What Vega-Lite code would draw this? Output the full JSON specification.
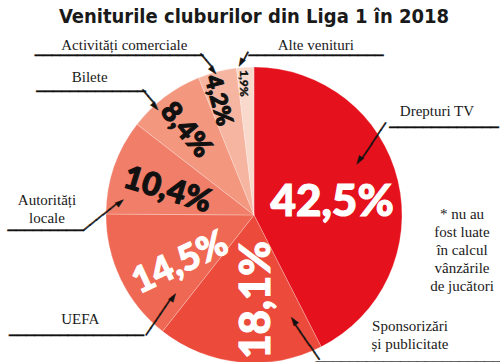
{
  "$schema": "https://vega.github.io/schema/vega-lite/v6.json",
  "width": 508,
  "height": 350,
  "autosize": "none",
  "padding": {"left": 0, "top": 40, "right": 0, "bottom": 0},
  "background": "white",
  "view": {"stroke": null},
  "title": {
    "text": "Veniturile cluburilor din Liga 1 în 2018",
    "font": "DejaVu Sans Condensed, Open Sans Condensed, Roboto",
    "fontSize": 20,
    "fontWeight": "bold",
    "color": "#1a1a1a",
    "anchor": "middle",
    "offset": 11
  },
  "data": {
    "values": [
      {"category": "Drepturi TV", "value": 42.5, "order": 1},
      {"category": "Sponsorizări\nși publicitate", "value": 18.1, "order": 2},
      {"category": "UEFA", "value": 14.5, "order": 3},
      {"category": "Autorități\nlocale", "value": 10.4, "order": 4},
      {"category": "Bilete", "value": 8.4, "order": 5},
      {"category": "Activități comerciale", "value": 4.2, "order": 6},
      {"category": "Alte venituri", "value": 1.9, "order": 7}
    ]
  },
  "transform": [
    {"stack": "value", "groupby": [], "sort": [{"field": "order", "order": "ascending"}], "as": ["v0", "v1"]},
    {"calculate": "(datum.v0 + datum.v1) / 2", "as": "mid"},
    {"calculate": "replace(format(datum.value, '.1f'), '.', ',') + '%'", "as": "pct"}
  ],
  "layer": [
    {
      "mark": {"type": "arc", "outerRadius": 148, "stroke": "#ffffff", "strokeWidth": 0.4, "strokeOpacity": 0.6},
      "encoding": {
        "theta": {"field": "v0", "type": "quantitative", "stack": null, "scale": {"domain": [0, 100]}},
        "theta2": {"field": "v1"},
        "color": {
          "field": "category",
          "type": "nominal",
          "legend": null,
          "scale": {
            "domain": ["Drepturi TV", "Sponsorizări\nși publicitate", "UEFA", "Autorități\nlocale", "Bilete", "Activități comerciale", "Alte venituri"],
            "range": ["#e5111d", "#ec4a3a", "#ef6853", "#f07e68", "#f3977f", "#f6b5a0", "#f9d9cc"]
          }
        }
      }
    },
    {
      "mark": {
        "type": "text",
        "font": "Lato",
        "fontWeight": 900,
        "align": "center",
        "baseline": "middle",
        "radius": {"expr": "[79, 85, 88, 90, 109, 120, 132][datum.order - 1]"},
        "thetaOffset": {"expr": "[4.8, -7.6, -7.3, -3, -2, -3, -1][datum.order - 1] * PI / 180"},
        "angle": {"expr": "[0, 270, 335, 17, 50, 75, 90][datum.order - 1]"},
        "fontSize": {"expr": "[44, 42, 36, 32, 28, 23, 12][datum.order - 1]"},
        "fill": {"expr": "datum.order <= 3 ? '#ffffff' : '#111111'"},
        "stroke": {"expr": "datum.order <= 3 ? '#ffffff' : '#111111'"},
        "strokeWidth": {"expr": "datum.order == 7 ? 0.3 : 1.1"}
      },
      "encoding": {
        "theta": {"field": "mid", "type": "quantitative", "stack": null},
        "text": {"field": "pct"}
      }
    },
    {
      "mark": {
        "type": "text",
        "font": "Liberation Serif",
        "fontSize": 15,
        "lineHeight": 18,
        "lineBreak": "\n",
        "align": "center",
        "baseline": "middle",
        "dy": -1,
        "fill": "#1a1a1a",
        "radius": {"expr": "[210, 192, 203, 207.5, 214, 213, 180][datum.order - 1]"},
        "thetaOffset": {"expr": "[-15.9, -59.9, -5.4, -15.18, -13.1, -23.1, 23.5][datum.order - 1] * PI / 180"}
      },
      "encoding": {
        "theta": {"field": "mid", "type": "quantitative", "stack": null},
        "text": {"field": "category"}
      }
    },
    {
      "mark": {
        "type": "text",
        "font": "DejaVu Sans Mono",
        "fontSize": 14,
        "align": "center",
        "baseline": "middle",
        "dy": 3,
        "fill": "#111111",
        "stroke": "#111111",
        "strokeWidth": 0.5,
        "radius": {"expr": "[210.2, 211.9, 213.1, 208.9, 206.0, 210.9, 173.5][datum.order - 1]"},
        "thetaOffset": {"expr": "[-11.85, -52.4, -7.86, -22.68, -15.22, -25.4, 24.32][datum.order - 1] * PI / 180"},
        "text": {"expr": "pad('', [13, 22, 16, 9, 13, 20, 16][datum.order - 1], '─')"}
      },
      "encoding": {
        "theta": {"field": "mid", "type": "quantitative", "stack": null}
      }
    },
    {
      "mark": {
        "type": "text",
        "font": "DejaVu Sans Mono",
        "fontSize": 14,
        "align": "center",
        "baseline": "middle",
        "dy": 3,
        "fill": "#111111",
        "stroke": "#111111",
        "strokeWidth": 0.5,
        "radius": {"expr": "[138.5, 134.3, 136.8, 152.5, 154.9, 159.1, 154.7][datum.order - 1]"},
        "thetaOffset": {"expr": "[-16.9, -27.0, -19.96, -18.33, -3.86, -1.47, 0.46][datum.order - 1] * PI / 180"},
        "angle": {"expr": "[124, 235, 304, 321, 50, 50, 118][datum.order - 1]"},
        "text": {"expr": "pad('', [5, 5, 5, 5, 2, 2, 1][datum.order - 1], '─') + '►'"}
      },
      "encoding": {
        "theta": {"field": "mid", "type": "quantitative", "stack": null}
      }
    },
    {
      "transform": [{"filter": "datum.order == 1"}],
      "mark": {
        "type": "text",
        "font": "Liberation Serif",
        "fontSize": 15,
        "lineHeight": 18,
        "align": "center",
        "baseline": "middle",
        "fill": "#1a1a1a",
        "radius": 208,
        "thetaOffset": {"expr": "13.2 * PI / 180"},
        "text": ["* nu au", "fost luate", "în calcul", "vânzările", "de jucători"]
      },
      "encoding": {
        "theta": {"field": "mid", "type": "quantitative", "stack": null}
      }
    }
  ]
}
